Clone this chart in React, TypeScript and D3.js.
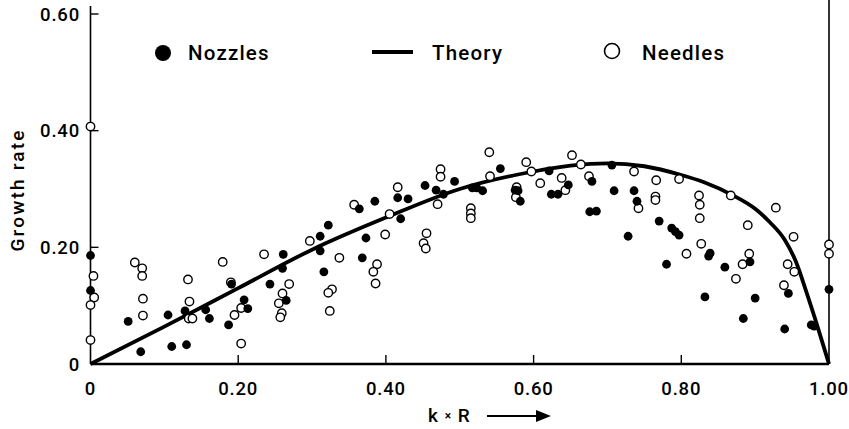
import React from "react";
import * as d3 from "d3";

// values: [k*R, growth rate]
const nozzles: [number, number][] = [
  [0, 0.186], [0, 0.126], [0.051, 0.073], [0.068, 0.021], [0.105, 0.084],
  [0.11, 0.03], [0.13, 0.033], [0.128, 0.091], [0.156, 0.093], [0.161, 0.078],
  [0.187, 0.067], [0.191, 0.137], [0.208, 0.11], [0.213, 0.095], [0.243, 0.137],
  [0.261, 0.188], [0.26, 0.164], [0.265, 0.109], [0.311, 0.219], [0.322, 0.238],
  [0.311, 0.194], [0.316, 0.158], [0.364, 0.266], [0.385, 0.279], [0.373, 0.216],
  [0.368, 0.182], [0.416, 0.285], [0.43, 0.283], [0.42, 0.249], [0.453, 0.306],
  [0.468, 0.298], [0.478, 0.291], [0.493, 0.313], [0.517, 0.302], [0.523, 0.302],
  [0.531, 0.297], [0.555, 0.335], [0.575, 0.298], [0.579, 0.297], [0.582, 0.279],
  [0.621, 0.331], [0.624, 0.291], [0.633, 0.291], [0.647, 0.307], [0.679, 0.313],
  [0.676, 0.261], [0.685, 0.262], [0.706, 0.341], [0.709, 0.297], [0.736, 0.297],
  [0.74, 0.279], [0.728, 0.219], [0.77, 0.245], [0.787, 0.233], [0.792, 0.227],
  [0.797, 0.221], [0.78, 0.171], [0.839, 0.19], [0.837, 0.185], [0.859, 0.166],
  [0.893, 0.175], [0.832, 0.115], [0.9, 0.113], [0.884, 0.078], [0.94, 0.06],
  [0.945, 0.121], [0.976, 0.067], [0.98, 0.065], [1.0, 0.128],
];

const needles: [number, number][] = [
  [0, 0.407], [0.004, 0.151], [0.005, 0.114], [0, 0.101], [0, 0.041],
  [0.06, 0.174], [0.07, 0.164], [0.07, 0.151], [0.071, 0.112], [0.071, 0.083],
  [0.132, 0.145], [0.134, 0.107], [0.133, 0.078], [0.138, 0.078], [0.179, 0.175],
  [0.195, 0.084], [0.19, 0.14], [0.235, 0.188], [0.204, 0.096], [0.204, 0.035],
  [0.269, 0.137], [0.26, 0.121], [0.255, 0.104], [0.259, 0.087], [0.257, 0.08],
  [0.297, 0.211], [0.337, 0.182], [0.327, 0.128], [0.322, 0.122], [0.324, 0.091],
  [0.357, 0.273], [0.399, 0.222], [0.388, 0.171], [0.383, 0.158], [0.386, 0.138],
  [0.405, 0.257], [0.416, 0.303], [0.455, 0.224], [0.451, 0.207], [0.454, 0.198],
  [0.474, 0.334], [0.474, 0.321], [0.47, 0.274], [0.54, 0.363], [0.541, 0.322],
  [0.515, 0.267], [0.515, 0.258], [0.515, 0.25], [0.59, 0.346], [0.597, 0.33],
  [0.577, 0.303], [0.576, 0.286], [0.652, 0.358], [0.664, 0.342], [0.609, 0.31],
  [0.638, 0.319], [0.643, 0.298], [0.675, 0.322], [0.736, 0.33], [0.766, 0.315],
  [0.765, 0.287], [0.765, 0.281], [0.742, 0.267], [0.797, 0.317], [0.807, 0.189],
  [0.824, 0.289], [0.825, 0.273], [0.825, 0.25], [0.827, 0.206], [0.867, 0.289],
  [0.928, 0.268], [0.89, 0.238], [0.892, 0.189], [0.883, 0.171], [0.874, 0.146],
  [0.952, 0.218], [0.944, 0.171], [0.953, 0.158], [0.939, 0.135], [1.0, 0.205],
  [1.0, 0.189],
];

const theory: [number, number][] = [
  [0, 0], [0.1, 0.064], [0.2, 0.13], [0.3, 0.196], [0.4, 0.251], [0.5, 0.3],
  [0.6, 0.33], [0.65, 0.34], [0.7, 0.344], [0.75, 0.339], [0.8, 0.324],
  [0.83, 0.312], [0.87, 0.289], [0.9, 0.266], [0.92, 0.243], [0.94, 0.213],
  [0.955, 0.176], [0.97, 0.121], [0.985, 0.062], [1.0, 0],
];

const xTicks = [0, 0.2, 0.4, 0.6, 0.8, 1.0];
const yTicks = [0, 0.2, 0.4, 0.6];
const fmt = (v: number) => (v === 0 ? "0" : v.toFixed(2));

const W = 849, H = 429;
const font = "Roboto, 'DejaVu Sans', sans-serif";

export default function App() {
  const x = d3.scaleLinear().domain([0, 1]).range([90.5, 829]);
  const y = d3.scaleLinear().domain([0, 0.6]).range([364, 14]);
  const line = d3.line<[number, number]>()
    .x(d => x(d[0]))
    .y(d => y(d[1]))
    .curve(d3.curveMonotoneX);

  return (
    <svg width={W} height={H} style={{ position: "absolute", left: 0, top: 0, background: "#fff" }}
      fontFamily={font} fontWeight={500} fill="#000">
      {/* frame */}
      <line x1={x(0)} x2={x(0)} y1={6} y2={y(0)} stroke="#000" strokeWidth={1.6} />
      <line x1={x(1)} x2={x(1)} y1={0} y2={y(0)} stroke="#000" strokeWidth={1.6} />
      <line x1={x(0)} x2={x(1)} y1={y(0)} y2={y(0)} stroke="#000" strokeWidth={2.4} />

      {xTicks.map(t => (
        <g key={"x" + t}>
          {t > 0 && t < 1 && <line x1={x(t)} x2={x(t)} y1={y(0)} y2={y(0) - 9} stroke="#000" strokeWidth={1.4} />}
          <text x={x(t)} y={395} textAnchor="middle" fontSize={18.5} letterSpacing={0.8}>{fmt(t)}</text>
        </g>
      ))}
      {yTicks.map(t => (
        <g key={"y" + t}>
          {t > 0 && <line x1={x(0)} x2={x(0) + 8} y1={y(t)} y2={y(t)} stroke="#000" strokeWidth={1.4} />}
          <text x={80} y={y(t)} dy="0.36em" textAnchor="end" fontSize={18.5} letterSpacing={0.8}>{fmt(t)}</text>
        </g>
      ))}

      <text transform={`translate(24,190) rotate(-90)`} textAnchor="middle" fontSize={19} letterSpacing={2.2}>Growth rate</text>
      <text x={428} y={422} fontSize={19} letterSpacing={1}>
        k <tspan fontSize={12} dy={-2}>×</tspan><tspan dy={2}> R</tspan>
      </text>
      <line x1={487} x2={540} y1={416} y2={416} stroke="#000" strokeWidth={2.2} />
      <path d="M536,410 L551,416 L536,422 Z" fill="#000" />

      {/* legend */}
      <circle cx={163} cy={53} r={8} fill="#000" />
      <text x={188} y={60} fontSize={20.5} letterSpacing={1.2}>Nozzles</text>
      <line x1={372} x2={413} y1={52} y2={52} stroke="#000" strokeWidth={4} />
      <text x={432} y={60} fontSize={20.5} letterSpacing={1.2}>Theory</text>
      <circle cx={612} cy={51} r={7.5} fill="none" stroke="#000" strokeWidth={1.6} />
      <text x={642} y={60} fontSize={20.5} letterSpacing={1.2}>Needles</text>

      <path d={line(theory) ?? ""} fill="none" stroke="#000" strokeWidth={3.8} strokeLinejoin="round" />

      {needles.map((d, i) => (
        <circle key={"n" + i} cx={x(d[0])} cy={y(d[1])} r={4.2} fill="#fff" stroke="#000" strokeWidth={1.4} />
      ))}
      {nozzles.map((d, i) => (
        <circle key={"z" + i} cx={x(d[0])} cy={y(d[1])} r={4.4} fill="#000" />
      ))}
    </svg>
  );
}
